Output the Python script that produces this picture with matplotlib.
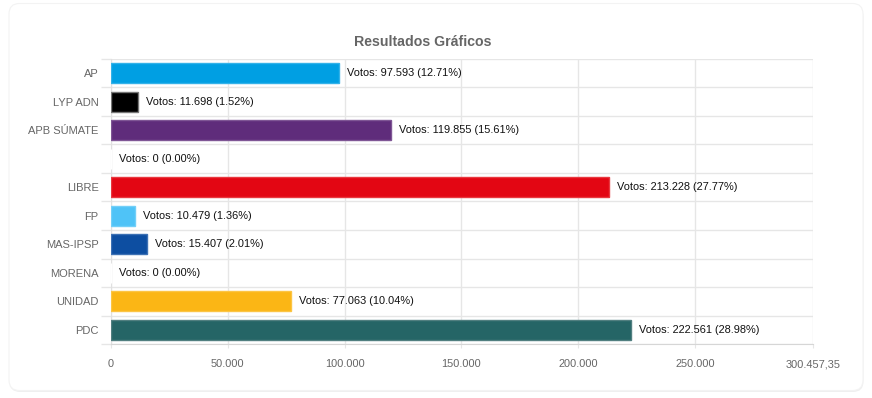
import matplotlib.pyplot as plt
from matplotlib.patches import FancyBboxPatch
from matplotlib.ticker import FixedLocator, FuncFormatter

partidos = ["AP", "LYP ADN", "APB SÚMATE", "", "LIBRE", "FP", "MAS-IPSP", "MORENA", "UNIDAD", "PDC"]
votos = [97593, 11698, 119855, 0, 213228, 10479, 15407, 0, 77063, 222561]
porcentajes = [12.71, 1.52, 15.61, 0.00, 27.77, 1.36, 2.01, 0.00, 10.04, 28.98]
colores = ["#009fe3", "#000000", "#5f2c7b", "#ffffff", "#e30613",
           "#4fc3f7", "#0d4ea1", "#ffffff", "#fbb615", "#256566"]
bordes = ["#33b2e9", "#777777", "#7f5695", "#ffffff", "#e9383f",
          "#72cff8", "#3d71b4", "#ffffff", "#fcc544", "#517f80"]
x_max = 300457.35
ticks = [0, 50000, 100000, 150000, 200000, 250000, x_max]

plt.rcParams['font.family'] = ['Liberation Sans', 'DejaVu Sans']

W, H = 872, 398
fig = plt.figure(figsize=(W / 100, H / 100), dpi=100)
fig.patch.set_facecolor("white")

# tarjeta con sombra
sombra = FancyBboxPatch((9.5 / W, 6 / H), 854 / W, 386 / H,
                        boxstyle="round,pad=0,rounding_size=0.012",
                        transform=fig.transFigure, facecolor="#efefef",
                        edgecolor="none", zorder=0, mutation_aspect=W / H)
fig.patches.append(sombra)
tarjeta = FancyBboxPatch((9 / W, 7.5 / H), 854 / W, 387 / H,
                         boxstyle="round,pad=0,rounding_size=0.012",
                         transform=fig.transFigure, facecolor="white",
                         edgecolor="#f3f3f3", linewidth=0.8, zorder=1,
                         mutation_aspect=W / H)
fig.patches.append(tarjeta)

ax = fig.add_axes([111 / W, 54 / H, (813 - 111) / W, (344 - 59) / H])
ax.set_zorder(2)
ax.patch.set_alpha(0)

y = list(range(len(partidos)))
ax.barh(y, votos, height=0.7, color=colores, edgecolor=bordes, linewidth=1, zorder=3)

for i, (v, p) in enumerate(zip(votos, porcentajes)):
    txt = "Votos: {:,} ({:.2f}%)".format(v, p).replace(",", ".")
    ax.annotate(txt, (v, i), xytext=(8, 0), textcoords="offset pixels",
                va="center", ha="left", fontsize=7.9, color="#111111", zorder=4)

ax.set_xlim(0, x_max)
ax.set_ylim(len(partidos) - 0.5, -0.5)

ax.xaxis.set_major_locator(FixedLocator(ticks))


def fmt(v, pos):
    if v == x_max:
        return "300.457,35"
    return "{:,.0f}".format(v).replace(",", ".")


ax.xaxis.set_major_formatter(FuncFormatter(fmt))
ax.set_yticks(y)
ax.set_yticklabels(partidos)
ax.set_yticks([i + 0.5 for i in range(-1, len(partidos))], minor=True)

ax.tick_params(axis="y", which="major", length=0, pad=9, labelsize=8, labelcolor="#666666")
ax.tick_params(axis="y", which="minor", length=7, color="#e6e6e6", width=1)
ax.tick_params(axis="x", length=3, color="#e6e6e6", pad=8, labelsize=7.9, labelcolor="#666666")

ax.grid(True, axis="x", which="major", color="#e6e6e6", linewidth=1, zorder=0)
ax.grid(True, axis="y", which="minor", color="#e6e6e6", linewidth=1, zorder=0)
for s in ["top", "right"]:
    ax.spines[s].set_visible(False)
ax.spines["left"].set_color("#e0e0e0")
ax.spines["bottom"].set_color("#d6d6d6")
ax.set_axisbelow(True)

fig.text(422.5 / W, 1 - 42 / H, "Resultados Gráficos", ha="center", va="center",
         fontsize=10.2, fontweight="bold", color="#666666")

fig.savefig("out.png", dpi=100)
